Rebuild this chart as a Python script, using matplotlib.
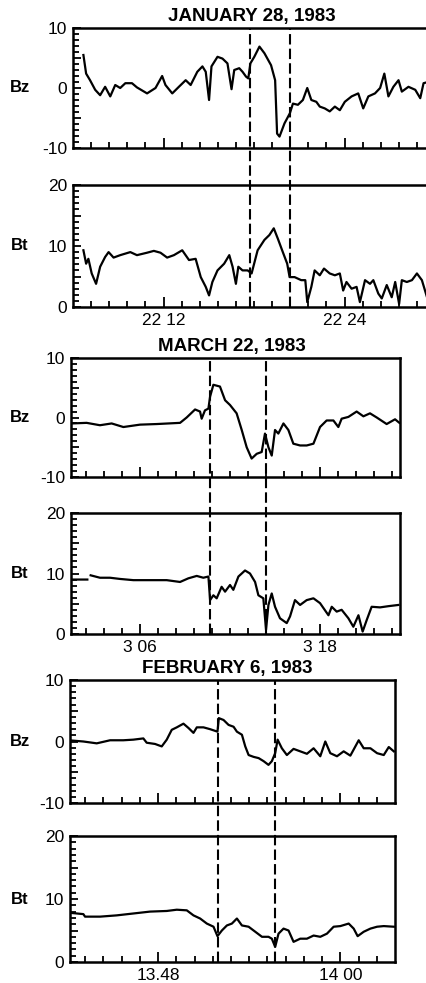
import numpy as np
import matplotlib.pyplot as plt

plt.rcParams['font.family'] = ['Liberation Sans', 'DejaVu Sans']

# ---- January 28, 1983 (time in minutes after 22:00) ----
jan_bz_t = [6.69, 6.87, 7.13, 7.47, 7.80, 8.13, 8.47, 8.80, 9.13, 9.47, 9.91, 10.24, 10.91,
            11.47, 11.91, 12.13, 12.58, 13.02, 13.47, 13.80, 14.24, 14.58, 14.80, 15.02,
            15.18, 15.58, 15.91, 16.24, 16.51, 16.69, 17.02, 17.24, 17.47, 17.62, 17.76,
            18.02, 18.36, 18.69, 19.13, 19.40, 19.53, 19.69, 20.02, 20.38, 20.58, 20.91,
            21.24, 21.53, 21.80, 22.13, 22.36, 22.69, 23.02, 23.36, 23.69, 24.02, 24.47,
            24.91, 25.24, 25.58, 26.02, 26.36, 26.64, 26.91, 27.24, 27.58, 27.80, 28.24,
            28.69, 29.02, 29.24, 29.53]
jan_bz = [5.5, 2.4, 1.3, -0.3, -1.2, 0.2, -1.4, 0.5, 0.0, 0.8, 0.8, 0.1, -0.9,
          0.0, 2.0, 0.5, -0.9, 0.2, 1.3, 0.5, 2.7, 3.6, 2.7, -2.0,
          3.6, 5.2, 4.9, 4.1, -0.2, 3.0, 3.3, 2.7, 1.9, 1.6, 4.1,
          5.2, 6.9, 5.8, 3.8, 1.3, -7.6, -8.1, -5.9, -4.2, -2.6, -2.8,
          -2.0, 0.0, -2.0, -2.3, -3.1, -3.4, -3.9, -3.1, -3.7, -2.3, -1.4,
          -0.9, -3.4, -1.4, -0.9, 0.0, 2.4, -1.4, 0.2, 1.3, -0.6, 0.2,
          -0.3, -1.7, 0.8, 1.0]

jan_bt_t = [6.69, 6.87, 7.02, 7.24, 7.53, 7.80, 8.13, 8.36, 8.69, 9.13, 9.80, 10.24, 10.91,
            11.36, 11.80, 12.24, 12.69, 13.24, 13.69, 14.13, 14.47, 14.80, 15.02, 15.24,
            15.58, 16.02, 16.36, 16.58, 16.80, 16.96, 17.24, 17.58, 17.84, 18.24, 18.69,
            19.02, 19.31, 19.58, 19.91, 20.20, 20.36, 20.69, 21.13, 21.40, 21.53, 21.80,
            22.02, 22.36, 22.64, 23.02, 23.36, 23.69, 23.91, 24.13, 24.47, 24.80, 25.02,
            25.36, 25.69, 25.91, 26.24, 26.47, 26.80, 27.13, 27.36, 27.62, 27.80, 28.13,
            28.47, 28.80, 29.13, 29.47]
jan_bt = [9.3, 7.1, 7.9, 5.5, 3.8, 6.6, 8.2, 9.0, 8.1, 8.5, 9.0, 8.5, 8.9,
          9.2, 8.9, 8.1, 8.5, 9.3, 7.7, 7.9, 4.9, 3.3, 1.9, 4.1,
          6.0, 7.1, 8.5, 6.6, 3.8, 6.6, 6.0, 6.0, 5.5, 9.3, 11.0,
          11.8, 12.9, 11.2, 9.0, 7.1, 4.9, 4.9, 4.4, 4.4, 0.8, 3.3,
          6.0, 5.2, 6.3, 5.5, 5.2, 5.5, 2.7, 4.1, 3.0, 3.3, 0.8,
          4.4, 3.8, 4.4, 2.2, 1.4, 3.6, 1.6, 4.1, 0.5, 4.4, 4.1,
          4.4, 5.5, 4.4, 1.6]

# ---- March 22, 1983 (minutes after 3:00) ----
mar_bz_t = [1.44, 2.44, 3.33, 4.11, 4.89, 6.0, 7.11, 8.67, 9.11, 9.67, 10.0, 10.11, 10.33,
            10.56, 10.67, 10.89, 11.33, 11.67, 12.0, 12.44, 12.78, 13.11, 13.44, 13.78,
            14.11, 14.33, 14.56, 14.78, 15.0, 15.22, 15.56, 15.89, 16.22, 16.67, 17.11,
            17.56, 18.0, 18.44, 18.89, 19.22, 19.44, 19.89, 20.44, 20.89, 21.33, 21.78,
            22.44, 23.0, 23.29]
mar_bz = [-1.0, -0.9, -1.3, -1.0, -1.6, -1.2, -1.1, -0.9, 0.0, 1.35, 1.0, -0.2, 1.2,
          1.5, 3.5, 5.5, 5.2, 2.9, 2.1, 0.7, -2.1, -5.0, -6.9, -6.1,
          -5.8, -2.7, -5.0, -6.4, -2.1, -2.7, -1.0, -2.1, -4.4, -4.7, -4.7,
          -4.4, -1.6, -0.5, -0.5, -1.6, -0.2, 0.1, 1.0, 0.2, 0.7, 0.0,
          -1.1, -0.3, -0.9]

mar_bt_t = [1.44, 2.49, np.nan, 2.71, 3.33, 4.0, 4.67, 5.56, 6.67, 7.78, 8.67, 9.22, 9.78,
            10.22, 10.56, 10.67, 10.89, 11.11, 11.44, 11.67, 12.0, 12.22, 12.56, 13.0,
            13.33, 13.67, 13.89, 14.22, 14.40, 14.56, 14.78, 15.0, 15.33, 15.78, 16.0,
            16.33, 16.67, 17.11, 17.56, 18.0, 18.56, 18.78, 19.11, 19.44, 19.89, 20.22,
            20.56, 20.84, 21.11, 21.44, 22.0, 22.56, 23.22]
mar_bt = [9.0, 9.0, np.nan, 9.7, 9.3, 9.3, 9.1, 8.9, 8.9, 8.9, 8.6, 9.2, 9.6,
          9.3, 9.5, 5.6, 6.4, 5.9, 7.8, 7.0, 8.1, 7.3, 9.5, 10.5,
          10.0, 8.6, 6.4, 5.9, 0.7, 4.8, 6.7, 4.5, 2.6, 1.8, 2.9,
          5.6, 4.8, 5.6, 5.9, 5.1, 3.1, 4.5, 3.7, 4.0, 2.6, 1.2,
          3.1, 0.4, 2.3, 4.5, 4.4, 4.6, 4.8]

# ---- February 6, 1983 (minutes after 13:00) ----
feb_bz_t = [42.31, 43.08, 43.96, 44.84, 45.71, 46.37, 47.03, 47.25, 47.80, 48.24, 48.57,
            48.90, 49.23, 49.67, 50.0, 50.33, 50.55, 50.99, 51.43, 51.91, 52.0, 52.31,
            52.64, 52.97, 53.19, 53.52, 53.74, 53.96, 54.29, 54.62, 54.95, 55.27, 55.49,
            55.71, 55.87, 56.15, 56.48, 56.92, 57.36, 57.80, 58.24, 58.68, 59.01, 59.34,
            59.78, 60.22, 60.66, 61.21, 61.54, 61.98, 62.42, 62.86, 63.19, 63.52]
feb_bz = [0.16, 0.0, -0.3, 0.2, 0.2, 0.3, 0.5, -0.2, -0.4, -0.8, 0.3,
          1.9, 2.3, 2.9, 2.2, 1.4, 2.3, 2.3, 2.0, 1.6, 3.8, 3.5,
          2.7, 2.4, 1.6, 1.1, -0.8, -2.2, -2.5, -2.7, -3.2, -3.8, -3.2,
          -1.9, 0.3, -1.1, -2.2, -1.2, -1.6, -2.0, -1.1, -2.4, 0.0, -1.9,
          -2.4, -1.6, -2.3, 0.2, -1.1, -1.1, -1.9, -2.2, -0.9, -1.6]

feb_bt_t = [42.24, 43.08, 43.19, 44.18, 45.27, 46.37, 47.47, 48.57, 49.23, 49.89, 50.33,
            50.77, 51.21, 51.65, 51.91, 52.20, 52.53, 52.86, 53.19, 53.52, 53.96, 54.40,
            54.84, 55.27, 55.49, 55.71, 55.93, 56.26, 56.59, 56.92, 57.36, 57.80, 58.24,
            58.68, 59.12, 59.56, 60.0, 60.55, 60.88, 61.14, 61.54, 61.98, 62.42, 62.86,
            63.52]
feb_bt = [7.8, 7.6, 7.2, 7.2, 7.4, 7.7, 8.0, 8.1, 8.3, 8.2, 7.4,
          6.9, 6.1, 5.6, 4.1, 5.0, 5.8, 6.1, 6.9, 5.8, 5.6, 4.8,
          4.0, 4.0, 3.7, 2.4, 4.5, 5.3, 5.0, 3.2, 3.7, 3.7, 4.2,
          4.0, 4.5, 5.6, 5.7, 6.1, 5.3, 4.1, 4.8, 5.3, 5.6, 5.7,
          5.6]

titles = ['JANUARY 28, 1983', 'MARCH 22, 1983', 'FEBRUARY 6, 1983']
major_ticks = [[12, 24], [6, 18], [48, 60]]
tick_labels = [['22 12', '22 24'], ['3 06', '3 18'], ['13.48', '14 00']]
dashes = [[17.73, 20.4], [10.67, 14.4], [51.96, 55.7]]
xlims = [(6.0, 29.8), (1.4, 23.33), (42.2, 63.6)]
series = [(jan_bz_t, jan_bz, jan_bt_t, jan_bt),
          (mar_bz_t, mar_bz, mar_bt_t, mar_bt),
          (feb_bz_t, feb_bz, feb_bt_t, feb_bt)]

W, H = 426, 983
fig = plt.figure(figsize=(W / 100, H / 100), dpi=100)


def box(l, r, t, b):
    return [l / W, 1 - b / H, (r - l) / W, (b - t) / H]


# pixel boxes: (left, right, top of Bz, bottom of Bz, top of Bt, bottom of Bt)
layout = [(73, 432, 28, 148, 185, 307),
          (71, 400, 358, 477, 513, 634),
          (70, 395, 680, 803, 836, 962)]
title_pos = [(252, 16), (232, 347), (227, 668)]

for g in range(3):
    l, r, t1, b1, t2, b2 = layout[g]
    ax1 = fig.add_axes(box(l, r, t1, b1))
    ax2 = fig.add_axes(box(l, r, t2, b2))
    tz, bz, tt, bt = series[g]
    ax1.plot(tz, bz, color='black', lw=1.6)
    ax2.plot(tt, bt, color='black', lw=1.6)
    ax1.set_ylim(-10, 10)
    ax2.set_ylim(0, 20)
    m0 = major_ticks[g][0]
    minor = [m0 + 1.2 * k for k in range(-6, 16)]
    minor = [v for v in minor if xlims[g][0] + 0.3 < v < xlims[g][1] - 0.2
             and v not in major_ticks[g]]
    for ax in (ax1, ax2):
        ax.patch.set_visible(False)
        ax.set_xlim(*xlims[g])
        ax.set_xticks(major_ticks[g])
        ax.set_xticks(minor, minor=True)
        for s in ax.spines.values():
            s.set_linewidth(1.8)
        ax.tick_params(which='both', direction='in', top=False, right=False,
                       width=1.3, labelsize=12.5)
        ax.tick_params(which='major', length=7, pad=4)
        ax.tick_params(which='minor', length=4)
    ax1.set_xticklabels([])
    ax2.set_xticklabels(tick_labels[g])
    ax1.set_yticks([-10, -5, 0, 5, 10])
    ax1.set_yticklabels(['-10', '', '0', '', '10'])
    ax1.set_yticks(np.arange(-10, 11, 1), minor=True)
    ax2.set_yticks([0, 5, 10, 15, 20])
    ax2.set_yticklabels(['0', '', '10', '', '20'])
    ax2.set_yticks(np.arange(0, 21, 1), minor=True)
    ax1.tick_params(axis='y', which='major', length=6, pad=4)
    ax2.tick_params(axis='y', which='major', length=6, pad=4)
    fig.text(20 / W, 1 - (t1 + (b1 - t1) / 2) / H, 'Bz', ha='center',
             va='center', fontsize=12, fontweight='bold')
    fig.text(20 / W, 1 - (t2 + (b2 - t2) / 2) / H, 'Bt', ha='center',
             va='center', fontsize=12, fontweight='bold')
    fig.text(title_pos[g][0] / W, 1 - title_pos[g][1] / H, titles[g], ha='center',
             va='center', fontsize=13.5, fontweight='bold')
    # dashed markers running through both panels
    ymin = -(b2 - b1) / (b1 - t1)
    for xd in dashes[g]:
        ax1.axvline(xd, ymin=ymin, ymax=1, clip_on=False, color='black',
                    lw=1.5, ls=(0, (5, 2)), zorder=5)

fig.savefig('out.png', dpi=100)
